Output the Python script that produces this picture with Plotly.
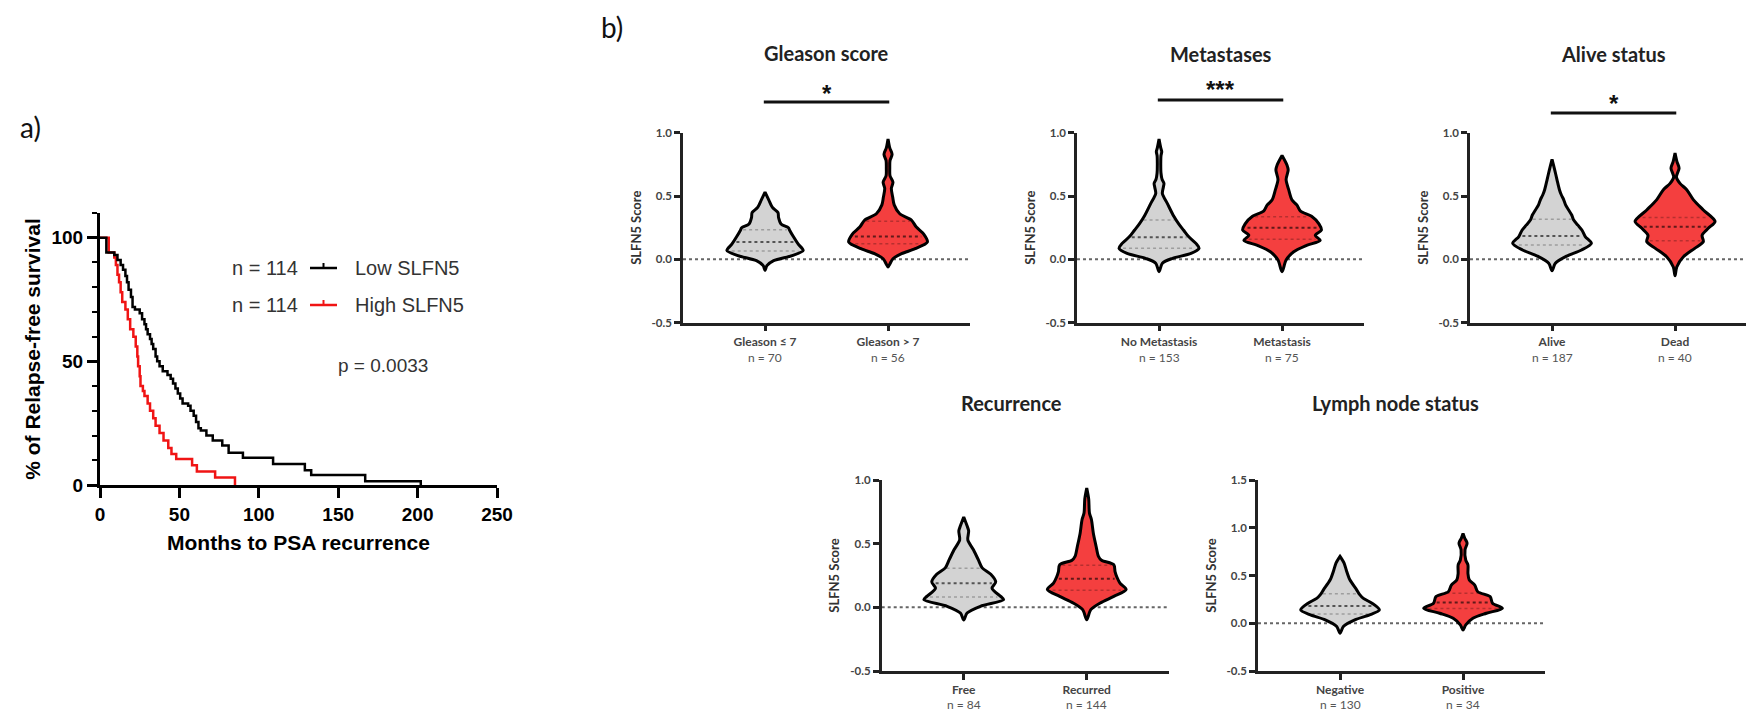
import numpy as np
import plotly.graph_objects as go

# ---------------- Panel a: Kaplan-Meier data ----------------
km_low_t = [0, 4, 9, 11, 13, 14.5, 16, 17, 18, 19.5, 20.5, 22, 25, 26.5, 28, 29, 30, 31.5, 32.5, 33.5, 35, 36,
            37.5, 39.5, 42.5, 44.5, 46, 47.5, 49, 50.5, 52, 55.5, 57, 59, 60.5, 62, 63.5, 67, 71, 77, 81, 90,
            109, 129, 133, 167, 202]
km_low_s = [100, 94, 93, 91, 89, 87, 84.5, 82, 79, 76, 72, 71, 69.5, 67, 65, 63, 61, 59, 57, 55, 52, 50,
            48, 46, 44.5, 43, 41, 39, 37, 35, 33, 32, 30, 28, 25.5, 23, 22, 20, 18, 16, 13, 11,
            8.5, 6, 4, 1.5, 0]
km_high_t = [0, 5.5, 9, 10, 11, 12, 13, 14, 16, 17.5, 19, 21, 22.5, 23.5, 24, 25, 25.5, 27, 28, 30, 31.5,
             33.5, 35, 37.5, 40, 43, 45, 48, 58, 61, 72.5, 85]
km_high_s = [100, 94, 92, 89, 85, 82, 78, 74, 71, 67, 63, 60, 56, 52, 48, 44, 40, 38, 36, 33, 30,
             27, 24, 21, 18, 15, 12.5, 10.5, 8, 5.5, 3, 0]
km_names = ["Low SLFN5", "High SLFN5"]
km_n = [114, 114]
km_p = "p = 0.0033"

# ---------------- Panel b: violin data ----------------
panel_titles = ["Gleason score", "Metastases", "Alive status", "Recurrence", "Lymph node status"]
group_labels = [["Gleason ≤ 7", "Gleason > 7"], ["No Metastasis", "Metastasis"], ["Alive", "Dead"],
                ["Free", "Recurred"], ["Negative", "Positive"]]
group_n = [[70, 56], [153, 75], [187, 40], [84, 144], [130, 34]]
significance = ["*", "***", "*", "", ""]
y_ranges = [[-0.5, 1.0], [-0.5, 1.0], [-0.5, 1.0], [-0.5, 1.0], [-0.5, 1.5]]

# violin profiles: score levels and half-widths (category units)
gleason_low_y = [-0.087, -0.05, -0.01, 0.03, 0.07, 0.12, 0.18, 0.23, 0.25, 0.28, 0.33, 0.37, 0.41, 0.47, 0.53]
gleason_low_w = [0, 0.015, 0.07, 0.22, 0.31, 0.27, 0.23, 0.20, 0.19, 0.13, 0.11, 0.105, 0.06, 0.03, 0]
gleason_high_y = [-0.06, -0.034, 0.005, 0.045, 0.084, 0.137, 0.20, 0.255, 0.31, 0.36, 0.43, 0.49, 0.56, 0.61,
                  0.66, 0.72, 0.78, 0.83, 0.88, 0.95]
gleason_high_w = [0, 0.016, 0.04, 0.11, 0.22, 0.32, 0.29, 0.23, 0.19, 0.095, 0.05, 0.038, 0.027, 0.04,
                  0.016, 0.014, 0.016, 0.033, 0.014, 0]
nomet_y = [-0.097, -0.03, 0.008, 0.047, 0.087, 0.126, 0.18, 0.23, 0.28, 0.34, 0.44, 0.52, 0.57, 0.60, 0.63,
           0.68, 0.76, 0.82, 0.85, 0.88, 0.95]
nomet_w = [0, 0.027, 0.11, 0.26, 0.325, 0.30, 0.24, 0.20, 0.16, 0.12, 0.068, 0.027, 0.035, 0.04, 0.025,
           0.016, 0.014, 0.016, 0.022, 0.014, 0]
met_y = [-0.097, -0.005, 0.06, 0.11, 0.15, 0.19, 0.23, 0.28, 0.34, 0.38, 0.43, 0.47, 0.55, 0.63, 0.705, 0.745, 0.82]
met_w = [0, 0.033, 0.095, 0.20, 0.31, 0.27, 0.32, 0.30, 0.24, 0.15, 0.12, 0.08, 0.054, 0.033, 0.05, 0.04, 0]
alive_y = [-0.09, -0.03, 0.026, 0.074, 0.126, 0.18, 0.23, 0.27, 0.31, 0.35, 0.39, 0.43, 0.47, 0.51, 0.55, 0.63,
           0.705, 0.79]
alive_w = [0, 0.027, 0.12, 0.24, 0.32, 0.27, 0.244, 0.21, 0.176, 0.16, 0.135, 0.11, 0.095, 0.075, 0.06, 0.04,
           0.022, 0]
dead_y = [-0.13, -0.06, 0.02, 0.087, 0.14, 0.19, 0.245, 0.30, 0.39, 0.47, 0.55, 0.60, 0.65, 0.72, 0.77, 0.84]
dead_w = [0, 0.014, 0.068, 0.16, 0.23, 0.22, 0.27, 0.325, 0.23, 0.15, 0.095, 0.04, 0.011, 0.033, 0.016, 0]
free_y = [-0.1, -0.045, 0.008, 0.06, 0.086, 0.15, 0.20, 0.26, 0.31, 0.37, 0.45, 0.53, 0.60, 0.64, 0.71]
free_w = [0, 0.027, 0.135, 0.325, 0.30, 0.23, 0.26, 0.22, 0.15, 0.12, 0.08, 0.033, 0.04, 0.027, 0]
recurred_y = [-0.097, -0.018, 0.034, 0.086, 0.14, 0.19, 0.24, 0.28, 0.335, 0.37, 0.40, 0.48, 0.58, 0.69, 0.74,
              0.85, 0.937]
recurred_w = [0, 0.033, 0.11, 0.22, 0.32, 0.27, 0.244, 0.23, 0.22, 0.12, 0.095, 0.076, 0.054, 0.038, 0.022,
              0.016, 0]
negative_y = [-0.105, -0.035, 0.035, 0.087, 0.14, 0.21, 0.26, 0.30, 0.35, 0.455, 0.56, 0.63, 0.70]
negative_w = [0, 0.027, 0.12, 0.24, 0.32, 0.26, 0.19, 0.16, 0.135, 0.08, 0.05, 0.033, 0]
positive_y = [-0.07, -0.017, 0.052, 0.105, 0.157, 0.21, 0.28, 0.33, 0.40, 0.455, 0.52, 0.61, 0.66, 0.77, 0.84,
              0.89, 0.94]
positive_w = [0, 0.022, 0.08, 0.19, 0.32, 0.24, 0.22, 0.12, 0.095, 0.05, 0.04, 0.04, 0.022, 0.016, 0.033,
              0.014, 0]

# quartiles [Q1, median, Q3]
gleason_low_q = [0.066, 0.137, 0.234]
gleason_high_q = [0.124, 0.18, 0.30]
nomet_q = [0.087, 0.174, 0.31]
met_q = [0.158, 0.25, 0.337]
alive_q = [0.113, 0.184, 0.316]
dead_q = [0.147, 0.258, 0.33]
free_q = [0.081, 0.19, 0.306]
recurred_q = [0.134, 0.225, 0.33]
negative_q = [0.098, 0.18, 0.31]
positive_q = [0.154, 0.217, 0.315]

profiles = [
    [(gleason_low_y, gleason_low_w, gleason_low_q), (gleason_high_y, gleason_high_w, gleason_high_q)],
    [(nomet_y, nomet_w, nomet_q), (met_y, met_w, met_q)],
    [(alive_y, alive_w, alive_q), (dead_y, dead_w, dead_q)],
    [(free_y, free_w, free_q), (recurred_y, recurred_w, recurred_q)],
    [(negative_y, negative_w, negative_q), (positive_y, positive_w, positive_q)],
]

# ---------------- Layout geometry ----------------
OFF = 8                      # page body margin
W, H = 1754 - OFF, 712 - OFF


def px(X):
    return (X - OFF) / W


def py(Y):
    return 1 - (Y - OFF) / H


PX_PER_CAT = 123.0
axis_left_px = [683, 1077, 1470, 881.7, 1258]
row_top_bottom = [(132.7, 322.7)] * 3 + [(480, 671)] * 2
n_label_px = [357, 357, 357, 704, 704]
x_left_units = -0.667

GREY = "#d3d3d3"
RED = "#f43f3f"
KM_RED = "#f01414"
FA = "Liberation Sans, Arial, sans-serif"
FB = "Lato, Open Sans, sans-serif"

fig = go.Figure()

# KM curves
fig.add_trace(go.Scatter(x=km_high_t, y=km_high_s, mode="lines",
                         line=dict(color=KM_RED, width=2.5, shape="hv"),
                         xaxis="x", yaxis="y", showlegend=False, hoverinfo="skip"))
fig.add_trace(go.Scatter(x=km_low_t, y=km_low_s, mode="lines",
                         line=dict(color="black", width=2.5, shape="hv"),
                         xaxis="x", yaxis="y", showlegend=False, hoverinfo="skip"))

layout = dict(
    width=W, height=H, margin=dict(l=0, r=0, t=0, b=0, autoexpand=False),
    paper_bgcolor="white", plot_bgcolor="white", showlegend=False,
    xaxis=dict(domain=[px(100), px(497)], range=[0, 250], anchor="y", automargin=False,
               tickmode="linear", tick0=0, dtick=50, ticks="outside", ticklen=10, tickwidth=3,
               tickcolor="black", showline=True, linewidth=3, linecolor="black",
               showgrid=False, zeroline=False,
               tickfont=dict(family=FA, size=19, color="black", weight=700),
               title=dict(text="Months to PSA recurrence", standoff=12,
                          font=dict(family=FA, size=21, color="black", weight=700))),
    yaxis=dict(domain=[py(485), py(213)], range=[0, 110], anchor="x", automargin=False,
               tickmode="linear", tick0=0, dtick=50, ticks="outside", ticklen=10, tickwidth=3,
               tickcolor="black", showline=True, linewidth=3, linecolor="black",
               showgrid=False, zeroline=False,
               minor=dict(ticks="outside", ticklen=5, tickwidth=2, tickcolor="black", dtick=10,
                          tick0=0, showgrid=False),
               tickfont=dict(family=FA, size=19, color="black", weight=700),
               title=dict(text="% of Relapse-free survival", standoff=6,
                          font=dict(family=FA, size=21, color="black", weight=700))),
)

shapes = []
annotations = []


def note(x, y, text, font, xanchor="center", yanchor="middle", xref="paper"):
    annotations.append(dict(x=x, y=y, xref=xref, yref="paper", xanchor=xanchor, yanchor=yanchor,
                            text=text, showarrow=False, font=font))


# KM legend
leg_rows = [268, 305]
leg_colors = ["black", KM_RED]
for i in range(2):
    yy = py(leg_rows[i])
    note(px(300), yy, f"n = {km_n[i]}", dict(family=FA, size=20, color="#333"), xanchor="right")
    note(px(353), yy, km_names[i], dict(family=FA, size=20, color="#333"), xanchor="left")
    shapes.append(dict(type="line", xref="paper", yref="paper", x0=px(310), x1=px(337), y0=yy, y1=yy,
                       line=dict(color=leg_colors[i], width=2.5)))
    shapes.append(dict(type="line", xref="paper", yref="paper", x0=px(323.5), x1=px(323.5),
                       y0=yy, y1=yy + 5 / H, line=dict(color=leg_colors[i], width=2)))
note(px(383), py(365), km_p, dict(family=FA, size=19, color="#333"))

# panel letters
note(px(30), py(127), "a)", dict(family=FB, size=28, color="#111"))
note(px(612), py(27), "b)", dict(family=FB, size=28, color="#111"))

title_x = [0.5, 0.5, 0.5, 0.39, 0.45]
title_y = [53, 54, 54, 403, 403]
bar_px = [102, 100, 113, None, None]
star_px = [93, 90, 103, None, None]

for k in range(5):
    ax = k + 2
    xa, ya = f"x{ax}", f"y{ax}"
    left = axis_left_px[k]
    right = min(left + (1.667 - x_left_units) * PX_PER_CAT, 1754)
    x_right_units = x_left_units + (right - left) / PX_PER_CAT
    yr = y_ranges[k]
    yt = [v for v in [-0.5, 0.0, 0.5, 1.0, 1.5] if yr[0] <= v <= yr[1] + 1e-9]
    top_px, bot_px = row_top_bottom[k]
    layout[f"xaxis{ax}"] = dict(
        domain=[px(left), min(px(right), 1.0)], range=[x_left_units, x_right_units], anchor=ya,
        automargin=False, tickmode="array", tickvals=[0, 1],
        ticktext=[f"<b>{group_labels[k][j]}</b>" for j in range(2)],
        ticks="outside", ticklen=6, tickwidth=2.5, tickcolor="#222",
        showline=True, linewidth=2.5, linecolor="#222", showgrid=False, zeroline=False,
        tickfont=dict(family=FB, size=12, color="#444"))
    layout[f"yaxis{ax}"] = dict(
        domain=[py(bot_px), py(top_px)], range=yr, anchor=xa, automargin=False, tickmode="array",
        tickvals=yt, ticktext=[f"{v:.1f}" for v in yt],
        ticks="outside", ticklen=6, tickwidth=2.5, tickcolor="#222",
        showline=True, linewidth=2.5, linecolor="#222", showgrid=False, zeroline=False,
        tickfont=dict(family=FB, size=11.5, color="#444", weight=700),
        title=dict(text="SLFN5 Score", standoff=8, font=dict(family=FB, size=13, color="#333", weight=700)))

    # zero dotted line (behind violins)
    shapes.append(dict(type="line", xref=f"{xa} domain", yref=ya, x0=0, x1=1, y0=0, y1=0, layer="below",
                       line=dict(color="#666", width=2, dash="dot")))

    for j in range(2):
        ys, ws, qs = profiles[k][j]
        ys_a = np.array(ys, dtype=float)
        ws_a = np.array(ws, dtype=float)
        vx = np.concatenate([j + ws_a, (j - ws_a)[::-1]])
        vy = np.concatenate([ys_a, ys_a[::-1]])
        fig.add_trace(go.Scatter(x=vx, y=vy, mode="lines", fill="toself",
                                 fillcolor=GREY if j == 0 else RED,
                                 line=dict(color="black", width=3, shape="spline", smoothing=0.8),
                                 xaxis=xa, yaxis=ya, showlegend=False, hoverinfo="skip"))
        for qi, q in enumerate(qs):
            hw = float(np.interp(q, ys_a, ws_a)) * 0.9
            med = qi == 1
            fig.add_trace(go.Scatter(x=[j - hw, j + hw], y=[q, q], mode="lines",
                                     line=dict(color="rgba(0,0,0,0.6)" if med else "rgba(0,0,0,0.25)",
                                               width=2 if med else 1.5, dash="dot"),
                                     xaxis=xa, yaxis=ya, showlegend=False, hoverinfo="skip"))
        # group size label under the category name
        note(j, py(n_label_px[k]), f"n = {group_n[k][j]}", dict(family=FB, size=12, color="#555"), xref=xa)

    note(title_x[k], py(title_y[k]), f"<b>{panel_titles[k]}</b>", dict(family=FB, size=20, color="#222"),
         xref=xa)
    if significance[k]:
        by = py(bar_px[k])
        shapes.append(dict(type="line", xref=xa, yref="paper", x0=-0.01, x1=1.01, y0=by, y1=by,
                           line=dict(color="#111", width=3)))
        note(0.5, py(star_px[k]), f"<b>{significance[k]}</b>", dict(family=FA, size=24, color="#111"), xref=xa)

layout["shapes"] = shapes
layout["annotations"] = annotations
fig.update_layout(**layout)
fig.write_html("out.html")
